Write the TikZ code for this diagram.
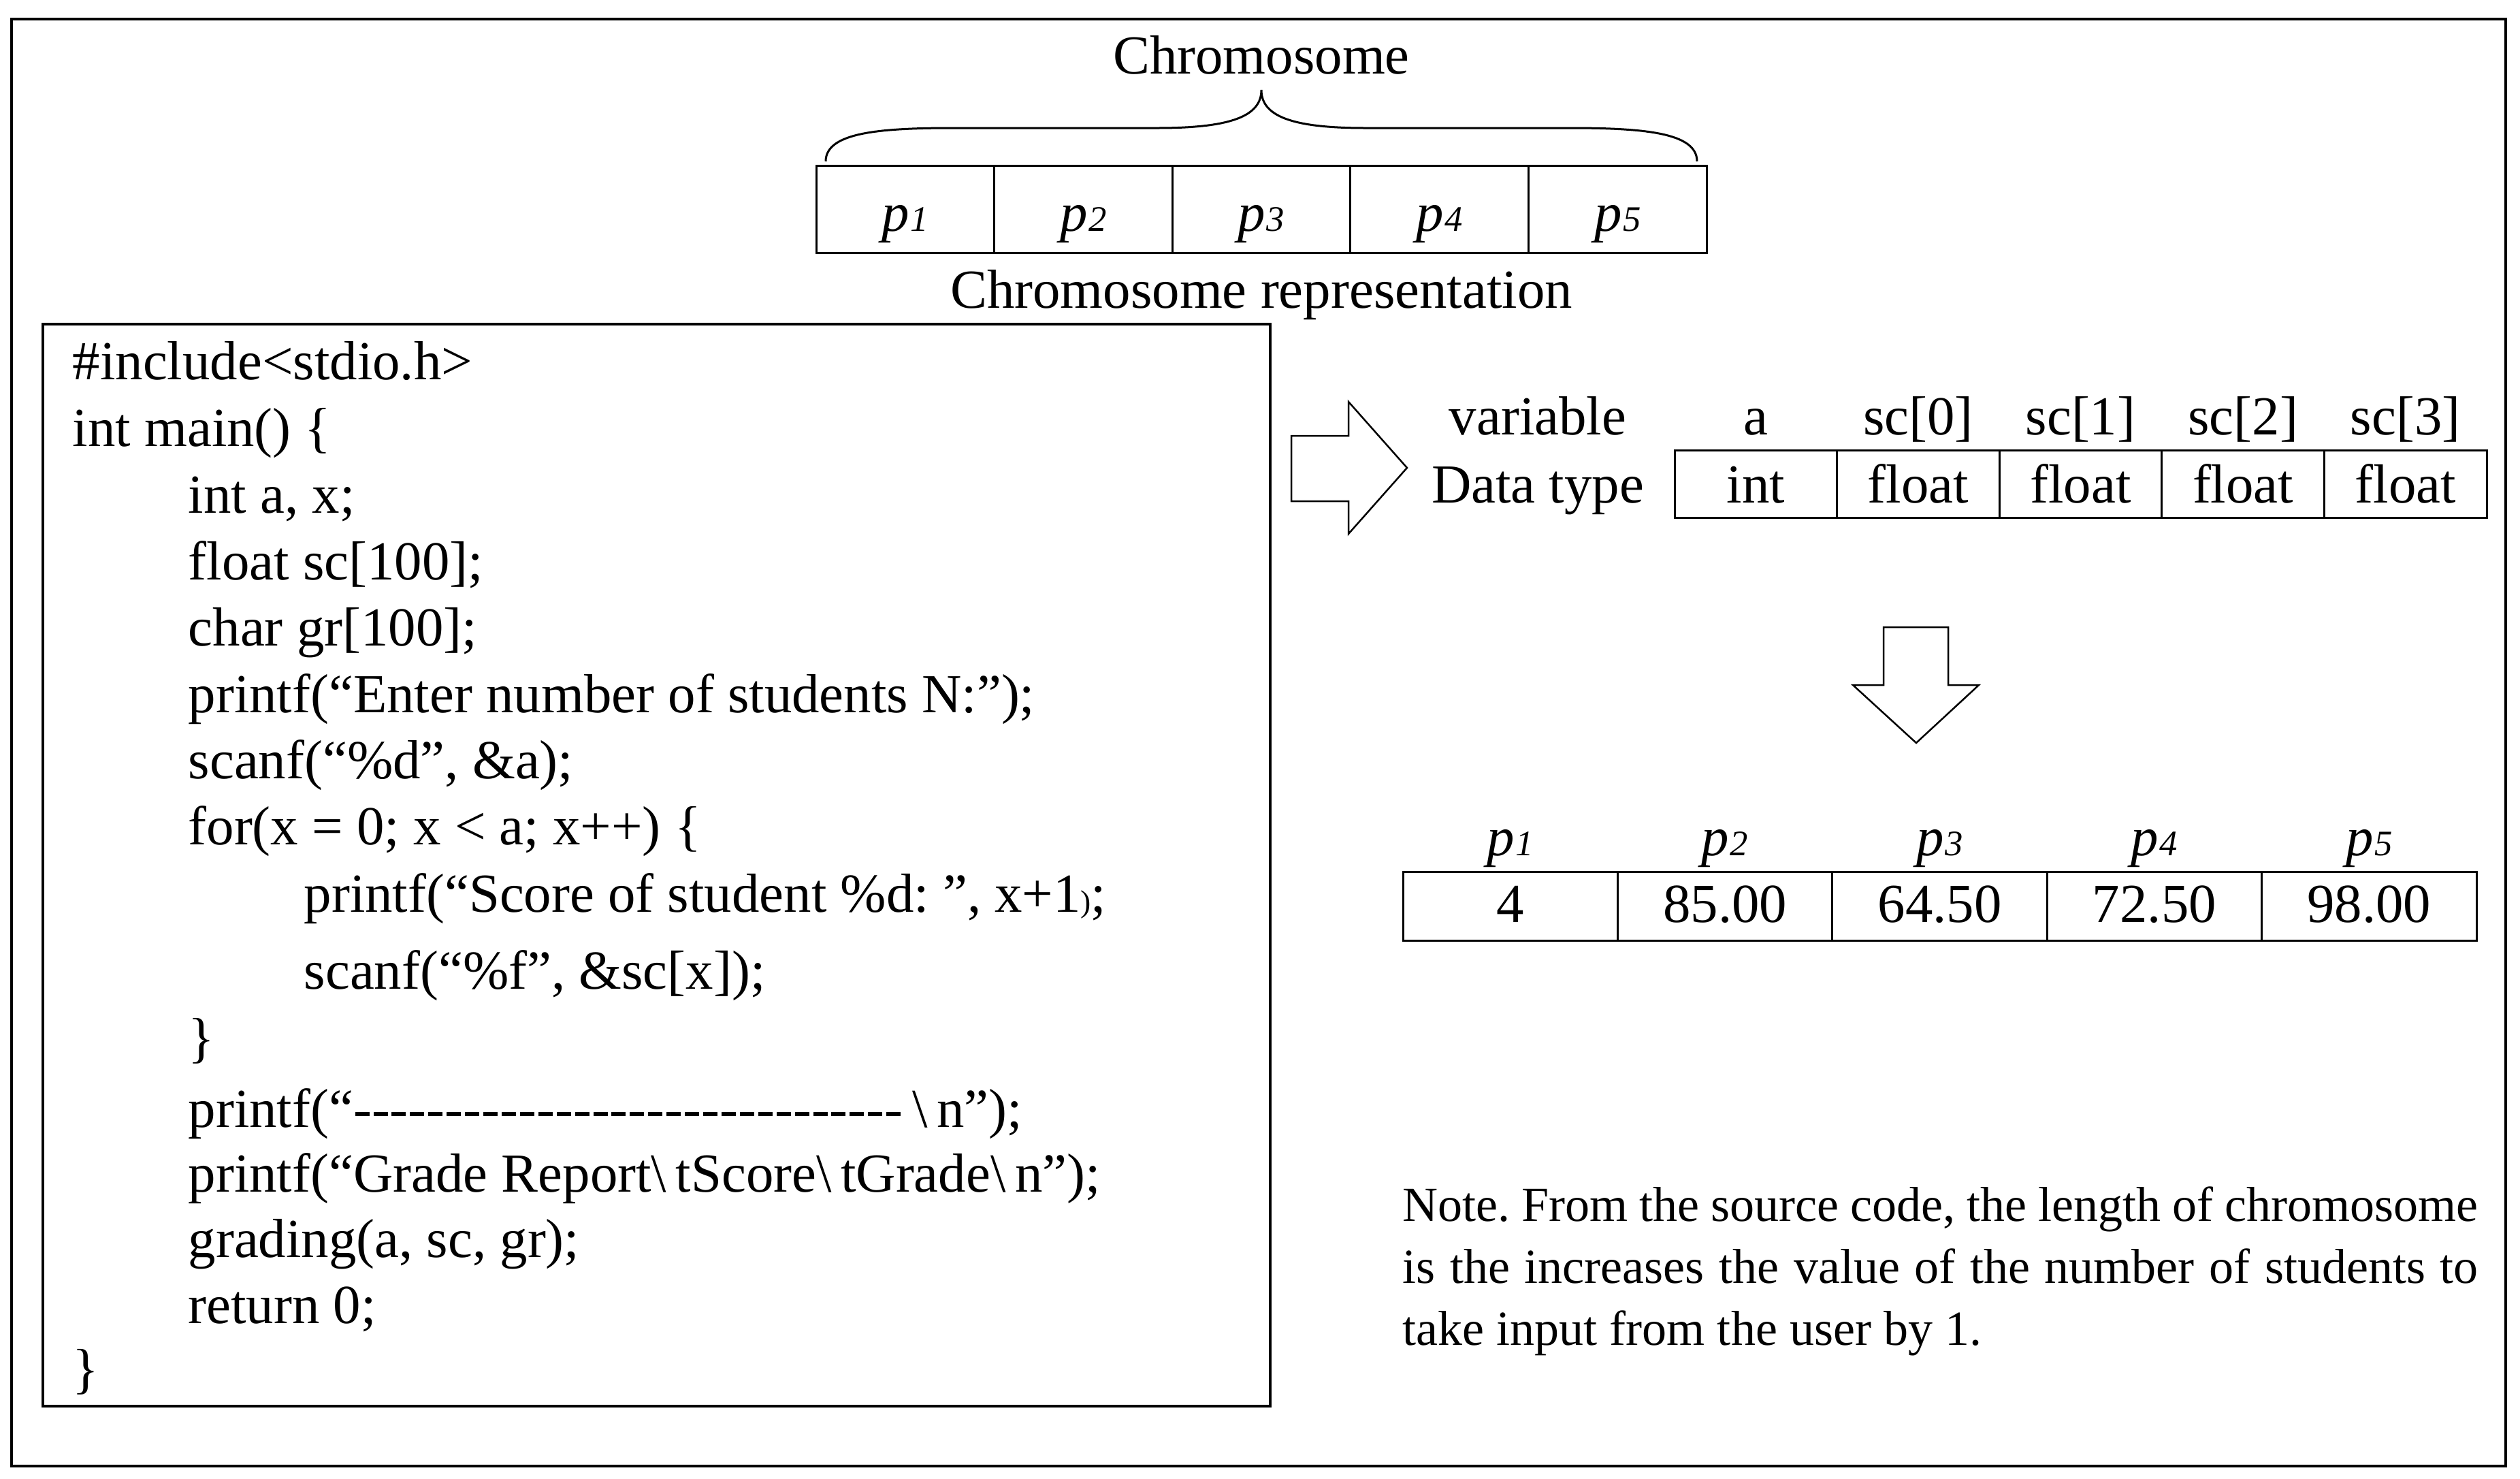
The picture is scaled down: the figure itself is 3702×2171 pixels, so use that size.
\documentclass[tikz,border=0pt]{standalone}
\usepackage{fontspec}
\setmainfont{Liberation Serif}
\frenchspacing
\tikzset{
  txt/.style={font=\fontsize{23}{26}\selectfont, inner sep=0pt},
  codeline/.style={txt, anchor=base west},
  genecell/.style={txt, draw, line width=0.3mm, minimum width=26.16mm, minimum height=12.8mm, text height=7.4mm, text depth=1mm},
  typecell/.style={txt, draw, line width=0.3mm, minimum width=23.86mm, minimum height=9.9mm, text height=6.5mm, text depth=1mm},
  valcell/.style={txt, draw, line width=0.3mm, minimum width=31.54mm, minimum height=10.1mm, text height=5.7mm, text depth=1mm},
  blockarrow/.style={draw, line width=0.25mm, line join=miter},
}
\newcommand{\pvar}[1]{\textit{p}\kern0.02em{\fontsize{15}{15}\selectfont\textit{#1}}}
\begin{document}
\begin{tikzpicture}[x=0.1mm, y=-0.1mm]
    \useasboundingbox (0,0) rectangle (3702,2171);
    \draw[line width=0.35mm] (17,28) rectangle (3681,2153);
    % chromosome
    \node[txt, anchor=base] (chromlabel) at (1853,108) {Chromosome};
    \draw[line width=0.3mm] (1213,237) .. controls (1213,195) and (1290,188) .. (1400,188) -- (1700,188)
      .. controls (1810,188) and (1853,170) .. (1853,132)
      .. controls (1853,170) and (1896,188) .. (2006,188) -- (2306,188)
      .. controls (2416,188) and (2493,195) .. (2493,237);
    \foreach \i in {1,...,5}
    { \node[genecell] (g\i) at ({1199+261.6*(\i-0.5)},307) {\pvar{\i}}; }
    \node[txt, anchor=base] (replabel) at (1853,452) {Chromosome representation};
    % source code
    \draw[line width=0.35mm] (63,476) rectangle (1866,2065);
    \node[codeline] (c1) at (106,557) {\#include<stdio.h>};
    \node[codeline] (c2) at (106,655) {int main() \{};
    \node[codeline] (c3) at (276,753) {int a, x;};
    \node[codeline] (c4) at (276,851) {float sc[100];};
    \node[codeline] (c5) at (276,948) {char gr[100];};
    \node[codeline] (c6) at (276,1046) {printf(“Enter number of students N:”);};
    \node[codeline] (c7) at (276,1143) {scanf(“\%d”, \&a);};
    \node[codeline] (c8) at (276,1240) {for(x = 0; x < a; x++) \{};
    \node[codeline] (c9) at (446,1339) {printf(“Score of student \%d: ”, x+1{\fontsize{13}{13}\selectfont)};};
    \node[codeline] (c10) at (446,1452) {scanf(“\%f”, \&sc[x]);};
    \node[codeline] (c11) at (276,1551) {\}};
    \node[codeline] (c12) at (276,1655) {printf(“\foreach \d in {1,...,30}{-}\,\textbackslash\,n”);};
    \node[codeline] (c13) at (276,1750) {printf(“Grade Report\textbackslash\,tScore\textbackslash\,tGrade\textbackslash\,n”);};
    \node[codeline] (c14) at (276,1846) {grading(a, sc, gr);};
    \node[codeline] (c15) at (276,1943) {return 0;};
    \node[codeline] (c16) at (106,2037) {\}};
    % variables and data types
    \draw[blockarrow] (1897,640) -- (1981,640) -- (1981,590) -- (2067,687) -- (1981,784) -- (1981,736) -- (1897,736) -- cycle;
    \node[txt, anchor=base] (varhead) at (2259,638) {variable};
    \node[txt, anchor=base] (typehead) at (2259,738) {Data type};
    \foreach \i/\v/\t in {1/a/int, 2/sc[0]/float, 3/sc[1]/float, 4/sc[2]/float, 5/sc[3]/float}
    {
      \node[typecell] (t\i) at ({2460+238.6*(\i-0.5)},710.5) {\t};
      \node[txt, anchor=base] (v\i) at ({2460+238.6*(\i-0.5)},638) {\v};
    }
    \draw[blockarrow] (2767,921) -- (2862,921) -- (2862,1006) -- (2907,1006) -- (2815,1091) -- (2722,1006) -- (2767,1006) -- cycle;
    % decoded chromosome
    \foreach \i/\x in {1/4, 2/85.00, 3/64.50, 4/72.50, 5/98.00}
    {
      \node[valcell] (s\i) at ({2061+315.4*(\i-0.5)},1330.5) {\x};
      \node[txt, anchor=base] (q\i) at ({2061+315.4*(\i-0.5)},1256) {\pvar{\i}};
    }
    % note
    \node[txt, font=\fontsize{20.5}{26}\selectfont, anchor=base west, text width=158mm, align=justify] (note) at (2060,1793)
      {Note. From the source code, the length of chromosome is the increases the value of the number of students to take input from the user by 1.};
  \end{tikzpicture}
\end{document}
